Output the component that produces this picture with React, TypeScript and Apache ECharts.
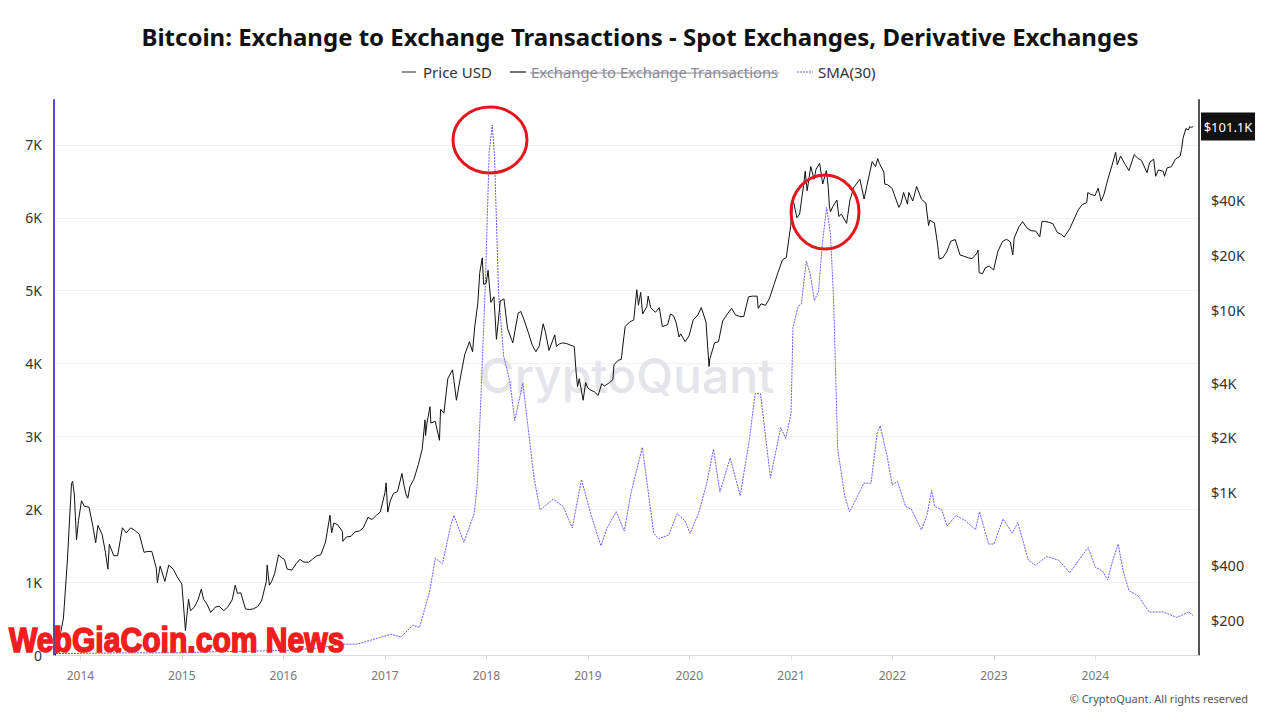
import React, { useEffect, useRef } from "react";
import * as echarts from "echarts";

const TITLE = "Bitcoin: Exchange to Exchange Transactions - Spot Exchanges, Derivative Exchanges";
const LEGEND_NAMES = ["Price USD", "Exchange to Exchange Transactions", "SMA(30)"];
const LEFT_TICKS = [0, 1000, 2000, 3000, 4000, 5000, 6000, 7000];
const RIGHT_TICKS = [200, 400, 1000, 2000, 4000, 10000, 20000, 40000];
const YEARS = [2014, 2015, 2016, 2017, 2018, 2019, 2020, 2021, 2022, 2023, 2024];

const priceData: [string, number][] = [
  ["2013-10-01", 125], ["2013-10-15", 150], ["2013-11-01", 205], ["2013-11-15", 420], ["2013-11-30", 1120], ["2013-12-04", 1150], ["2013-12-10", 980], ["2013-12-18", 550], ["2013-12-25", 700],
  ["2014-01-05", 900], ["2014-01-15", 840], ["2014-02-01", 830], ["2014-02-15", 650], ["2014-02-25", 530], ["2014-03-05", 660], ["2014-03-20", 590], ["2014-04-01", 470], ["2014-04-10", 380], ["2014-04-15", 520], ["2014-05-01", 450], ["2014-05-15", 450], ["2014-06-01", 640], ["2014-06-15", 600], ["2014-07-01", 640], ["2014-07-15", 620], ["2014-08-01", 590], ["2014-08-18", 470], ["2014-09-01", 475], ["2014-09-15", 475], ["2014-10-01", 385], ["2014-10-05", 320], ["2014-10-15", 395], ["2014-11-01", 325], ["2014-11-15", 400], ["2014-12-01", 380], ["2014-12-15", 345],
  ["2015-01-01", 315], ["2015-01-14", 175], ["2015-01-25", 260], ["2015-02-01", 225], ["2015-02-15", 235], ["2015-03-01", 260], ["2015-03-12", 295], ["2015-03-20", 260], ["2015-04-01", 245], ["2015-04-15", 220], ["2015-05-01", 235], ["2015-05-15", 238], ["2015-06-01", 225], ["2015-06-15", 235], ["2015-07-01", 258], ["2015-07-12", 310], ["2015-07-20", 280], ["2015-08-01", 282], ["2015-08-18", 230], ["2015-09-01", 228], ["2015-09-15", 230], ["2015-10-01", 237], ["2015-10-15", 255], ["2015-11-01", 325], ["2015-11-04", 400], ["2015-11-12", 310], ["2015-11-20", 325], ["2015-12-01", 360], ["2015-12-15", 455], ["2015-12-25", 440],
  ["2016-01-05", 430], ["2016-01-15", 380], ["2016-02-01", 375], ["2016-02-15", 405], ["2016-03-01", 430], ["2016-03-15", 415], ["2016-04-01", 415], ["2016-04-15", 430], ["2016-05-01", 450], ["2016-05-15", 455], ["2016-06-01", 535], ["2016-06-17", 750], ["2016-06-23", 600], ["2016-07-01", 680], ["2016-07-15", 665], ["2016-08-01", 610], ["2016-08-02", 540], ["2016-08-15", 570], ["2016-09-01", 575], ["2016-09-15", 608], ["2016-10-01", 615], ["2016-10-15", 640], ["2016-11-01", 730], ["2016-11-15", 710], ["2016-12-01", 750], ["2016-12-15", 780],
  ["2017-01-01", 1000], ["2017-01-05", 1130], ["2017-01-11", 780], ["2017-01-20", 900], ["2017-02-01", 990], ["2017-02-15", 1010], ["2017-03-03", 1270], ["2017-03-10", 1100], ["2017-03-18", 970], ["2017-03-24", 930], ["2017-04-01", 1080], ["2017-04-15", 1180], ["2017-05-01", 1420], ["2017-05-15", 1730], ["2017-05-25", 2500], ["2017-05-27", 2050], ["2017-06-01", 2400], ["2017-06-12", 2950], ["2017-06-15", 2400], ["2017-07-01", 2450], ["2017-07-16", 1930], ["2017-07-20", 2850], ["2017-08-01", 2720], ["2017-08-15", 4200], ["2017-09-01", 4700], ["2017-09-15", 3200], ["2017-10-01", 4400], ["2017-10-15", 5700], ["2017-11-01", 6700], ["2017-11-12", 5900], ["2017-11-20", 8100], ["2017-12-01", 10900], ["2017-12-08", 16000], ["2017-12-17", 19300], ["2017-12-22", 13800], ["2017-12-31", 14000],
  ["2018-01-07", 16500], ["2018-01-17", 11000], ["2018-01-28", 11800], ["2018-02-06", 6900], ["2018-02-20", 11200], ["2018-03-05", 11500], ["2018-03-18", 7900], ["2018-04-01", 6900], ["2018-04-06", 6600], ["2018-04-25", 9600], ["2018-05-05", 9800], ["2018-05-20", 8500], ["2018-06-01", 7500], ["2018-06-15", 6400], ["2018-06-28", 5900], ["2018-07-10", 6350], ["2018-07-24", 8400], ["2018-08-01", 7600], ["2018-08-14", 6000], ["2018-09-04", 7300], ["2018-09-10", 6300], ["2018-09-20", 6500], ["2018-10-01", 6600], ["2018-10-15", 6550], ["2018-11-01", 6400], ["2018-11-13", 6300], ["2018-11-20", 4500], ["2018-11-25", 3800], ["2018-12-01", 4200], ["2018-12-15", 3200], ["2018-12-24", 4000], ["2018-12-31", 3750],
  ["2019-01-10", 3650], ["2019-01-25", 3550], ["2019-02-07", 3400], ["2019-02-20", 3950], ["2019-03-01", 3820], ["2019-03-20", 4000], ["2019-04-01", 4150], ["2019-04-05", 5000], ["2019-04-20", 5300], ["2019-05-01", 5350], ["2019-05-15", 8100], ["2019-06-01", 8600], ["2019-06-15", 8800], ["2019-06-26", 12900], ["2019-07-02", 10600], ["2019-07-10", 12500], ["2019-07-17", 9500], ["2019-08-01", 10400], ["2019-08-06", 11900], ["2019-08-15", 10300], ["2019-09-01", 9700], ["2019-09-15", 10300], ["2019-09-26", 8100], ["2019-10-15", 8300], ["2019-10-25", 9500], ["2019-11-05", 9300], ["2019-11-15", 8500], ["2019-11-25", 7100], ["2019-12-01", 7400], ["2019-12-17", 6700], ["2019-12-31", 7200],
  ["2020-01-15", 8800], ["2020-02-01", 9400], ["2020-02-13", 10300], ["2020-03-01", 8600], ["2020-03-12", 4900], ["2020-03-15", 5400], ["2020-04-01", 6600], ["2020-04-15", 6700], ["2020-04-30", 8700], ["2020-05-15", 9400], ["2020-06-01", 10200], ["2020-06-15", 9400], ["2020-07-01", 9200], ["2020-07-15", 9200], ["2020-08-01", 11800], ["2020-08-15", 11900], ["2020-09-01", 11900], ["2020-09-05", 10200], ["2020-09-15", 10800], ["2020-10-01", 10600], ["2020-10-15", 11500], ["2020-11-01", 13800], ["2020-11-15", 16000], ["2020-12-01", 18800], ["2020-12-15", 19400], ["2020-12-31", 29000],
  ["2021-01-08", 40500], ["2021-01-22", 32000], ["2021-02-01", 33500], ["2021-02-15", 48000], ["2021-02-21", 57500], ["2021-02-28", 45000], ["2021-03-13", 61000], ["2021-03-25", 52000], ["2021-04-01", 59000], ["2021-04-14", 63500], ["2021-04-25", 49000], ["2021-05-08", 58000], ["2021-05-15", 47000], ["2021-05-19", 37000], ["2021-05-23", 34500], ["2021-06-01", 37000], ["2021-06-15", 40000], ["2021-06-22", 32500], ["2021-07-01", 33500], ["2021-07-20", 29800], ["2021-08-01", 40000], ["2021-08-15", 47000], ["2021-09-06", 52000], ["2021-09-21", 40500], ["2021-10-01", 48000], ["2021-10-20", 65000], ["2021-11-01", 61000], ["2021-11-09", 67500], ["2021-11-15", 63500], ["2021-12-01", 57000], ["2021-12-04", 49000], ["2021-12-15", 48500], ["2021-12-31", 46300],
  ["2022-01-10", 41800], ["2022-01-24", 36500], ["2022-02-01", 38500], ["2022-02-10", 44000], ["2022-02-24", 38000], ["2022-03-01", 44000], ["2022-03-15", 39500], ["2022-03-29", 47500], ["2022-04-15", 40500], ["2022-05-01", 38500], ["2022-05-11", 29000], ["2022-05-15", 31000], ["2022-06-01", 30000], ["2022-06-13", 22500], ["2022-06-18", 19000], ["2022-07-01", 19300], ["2022-07-15", 20800], ["2022-07-30", 23800], ["2022-08-15", 24300], ["2022-09-01", 20000], ["2022-09-15", 19700], ["2022-10-01", 19300], ["2022-10-15", 19100], ["2022-11-01", 20500], ["2022-11-05", 21300], ["2022-11-09", 16000], ["2022-11-21", 15800], ["2022-12-01", 17000], ["2022-12-15", 17400], ["2022-12-31", 16550],
  ["2023-01-15", 20900], ["2023-02-01", 23700], ["2023-02-15", 24400], ["2023-03-01", 23600], ["2023-03-10", 20000], ["2023-03-15", 24800], ["2023-04-01", 28500], ["2023-04-14", 30500], ["2023-05-01", 28000], ["2023-05-15", 27200], ["2023-06-01", 27000], ["2023-06-15", 25100], ["2023-06-23", 30500], ["2023-07-01", 30600], ["2023-07-15", 30300], ["2023-08-01", 29700], ["2023-08-17", 26600], ["2023-09-01", 25900], ["2023-09-11", 25100], ["2023-10-01", 27900], ["2023-10-23", 33100], ["2023-11-01", 35400], ["2023-11-15", 37800], ["2023-12-01", 38700], ["2023-12-05", 44000], ["2023-12-15", 43000], ["2023-12-31", 42300],
  ["2024-01-11", 46500], ["2024-01-22", 39500], ["2024-02-01", 43000], ["2024-02-15", 52000], ["2024-03-01", 62000], ["2024-03-14", 73000], ["2024-03-20", 62500], ["2024-04-01", 69700], ["2024-04-15", 63500], ["2024-05-01", 58000], ["2024-05-20", 71000], ["2024-06-01", 67800], ["2024-06-15", 66000], ["2024-07-05", 56500], ["2024-07-15", 64500], ["2024-07-29", 67000], ["2024-08-05", 54000], ["2024-08-15", 58500], ["2024-09-01", 57500], ["2024-09-06", 54000], ["2024-09-15", 60000], ["2024-10-01", 61000], ["2024-10-15", 67000], ["2024-11-01", 69500], ["2024-11-06", 75600], ["2024-11-12", 88000], ["2024-11-22", 98500], ["2024-12-01", 97000], ["2024-12-05", 101000], ["2024-12-12", 100000], ["2024-12-18", 101100],
];

const smaData: [string, number][] = [
  ["2013-10-05", 20], ["2014-03-01", 25], ["2014-08-01", 30], ["2015-01-01", 30], ["2015-05-01", 45], ["2015-08-01", 50], ["2015-12-01", 60], ["2016-02-01", 65], ["2016-05-01", 95],
  ["2016-07-26", 147], ["2016-09-24", 150], ["2016-11-25", 220], ["2017-01-22", 285], ["2017-02-28", 246], ["2017-04-10", 408], ["2017-05-05", 378], ["2017-06-10", 860], ["2017-07-01", 1327], ["2017-07-27", 1253], ["2017-08-25", 1769], ["2017-09-06", 1916], ["2017-10-12", 1548], ["2017-11-18", 1941], ["2017-11-29", 2334], ["2017-12-14", 3710], ["2017-12-28", 5086],
  ["2018-01-11", 6904], ["2018-01-22", 7273], ["2018-01-30", 6855], ["2018-02-14", 4939], ["2018-03-04", 4103], ["2018-03-26", 3759], ["2018-04-13", 3219], ["2018-05-12", 3735], ["2018-05-31", 3120], ["2018-06-21", 2432], ["2018-07-13", 1990], ["2018-08-29", 2138], ["2018-10-04", 2039], ["2018-11-06", 1744], ["2018-12-09", 2408],
  ["2019-01-11", 1941], ["2019-02-17", 1499], ["2019-03-11", 1744], ["2019-04-13", 1966], ["2019-05-12", 1700], ["2019-06-06", 2236], ["2019-07-16", 2850], ["2019-08-08", 2187], ["2019-08-26", 1671], ["2019-09-13", 1597], ["2019-10-19", 1646], ["2019-11-18", 1941], ["2019-12-16", 1843],
  ["2020-01-04", 1671], ["2020-02-03", 1941], ["2020-03-04", 2359], ["2020-03-28", 2826], ["2020-04-20", 2236], ["2020-05-27", 2703], ["2020-07-02", 2187], ["2020-08-03", 2924], ["2020-08-25", 3587], ["2020-09-13", 3587], ["2020-10-19", 2432], ["2020-11-25", 3120], ["2020-12-13", 2973],
  ["2021-01-01", 3317], ["2021-01-08", 4496], ["2021-01-27", 4791], ["2021-02-07", 4816], ["2021-02-25", 5405], ["2021-03-11", 5233], ["2021-03-26", 4865], ["2021-04-10", 4988], ["2021-04-24", 5651], ["2021-05-09", 6143], ["2021-05-23", 5774], ["2021-06-03", 4889], ["2021-06-18", 2826], ["2021-07-13", 2187], ["2021-07-31", 1966], ["2021-08-29", 2187], ["2021-09-20", 2359], ["2021-10-16", 2359], ["2021-11-07", 3047], ["2021-11-18", 3145], ["2021-12-13", 2727], ["2021-12-31", 2334],
  ["2022-01-19", 2383], ["2022-02-17", 2039], ["2022-03-10", 2000], ["2022-04-15", 1720], ["2022-05-05", 1916], ["2022-05-22", 2260], ["2022-06-02", 2039], ["2022-06-28", 1990], ["2022-07-16", 1769], ["2022-08-18", 1916], ["2022-09-20", 1843], ["2022-10-27", 1720], ["2022-11-10", 1966], ["2022-12-13", 1523],
  ["2023-01-01", 1523], ["2023-02-03", 1867], ["2023-03-08", 1671], ["2023-03-28", 1818], ["2023-05-05", 1302], ["2023-05-30", 1229], ["2023-07-09", 1351], ["2023-08-22", 1302], ["2023-10-01", 1130], ["2023-11-07", 1327], ["2023-12-06", 1474],
  ["2024-01-01", 1204], ["2024-01-26", 1155], ["2024-02-14", 1032], ["2024-03-04", 1302], ["2024-03-23", 1523], ["2024-04-10", 1155], ["2024-05-01", 885], ["2024-06-03", 811], ["2024-07-13", 590], ["2024-09-02", 590], ["2024-10-20", 516], ["2024-12-02", 590], ["2024-12-18", 541],
];

const fmtK = (v: number) => (v === 0 ? "0" : v >= 1000 ? `${Math.round(v / 100) / 10}K` : `${v}`);
const fmtUsd = (v: number) => (v >= 1000 ? `$${Math.round(v / 100) / 10}K` : `$${Math.round(v)}`);
const ts = (d: string) => {
  const [y, m, dd] = d.split("-").map(Number);
  return Date.UTC(y, m - 1, dd);
};

export default function App() {
  const ref = useRef<HTMLDivElement>(null);
  useEffect(() => {
    if (!ref.current) return;
    const chart = echarts.init(ref.current, null, { renderer: "svg" });
    const yearTs = YEARS.map((y) => Date.UTC(y, 0, 1));
    const font = "'Noto Sans', sans-serif";
    const last = priceData[priceData.length - 1][1];

    chart.setOption({
      animation: false,
      backgroundColor: "#ffffff",
      title: {
        text: TITLE,
        left: "center",
        top: 19,
        textStyle: { fontSize: 24, fontWeight: "bold", color: "#111", fontFamily: font },
      },
      legend: { show: false },
      grid: { left: 54, right: 81, top: 100, bottom: 65, containLabel: false },
      xAxis: {
        type: "value",
        min: Date.UTC(2013, 8, 28),
        max: Date.UTC(2025, 0, 8),
        axisLine: { show: true, lineStyle: { color: "#dcdce0", width: 1 } },
        axisTick: { show: true, customValues: yearTs, length: 5, lineStyle: { color: "#dcdce0" } },
        axisLabel: {
          customValues: yearTs,
          formatter: (v: number) => String(new Date(v).getUTCFullYear()),
          color: "#777",
          fontSize: 12,
          margin: 14,
          fontFamily: font,
        },
        splitLine: { show: false },
      },
      yAxis: [
        {
          type: "value",
          min: 0,
          max: 7617,
          position: "left",
          axisLine: { show: true, lineStyle: { color: "#5244f5", width: 2 } },
          axisTick: { show: false, customValues: LEFT_TICKS },
          axisLabel: { customValues: LEFT_TICKS, formatter: fmtK, color: "#333", fontSize: 14, margin: 12, fontFamily: font },
          splitLine: { show: true, lineStyle: { color: "#f1f1f3", width: 1 } },
        },
        {
          type: "value",
          min: 2.1092,
          max: 5.1503,
          position: "right",
          axisLine: { show: true, lineStyle: { color: "#555", width: 2 } },
          axisTick: { show: false, customValues: RIGHT_TICKS.map((v) => Math.log10(v)) },
          axisLabel: {
            customValues: RIGHT_TICKS.map((v) => Math.log10(v)),
            formatter: (v: number) => fmtUsd(Math.pow(10, v)),
            color: "#333",
            fontSize: 14.5,
            margin: 12,
            fontFamily: font,
          },
          splitLine: { show: false },
        },
      ],
      series: [
        {
          name: LEGEND_NAMES[2],
          type: "line",
          yAxisIndex: 0,
          data: smaData.map(([d, v]) => [ts(d), v]),
          showSymbol: false,
          symbol: "none",
          lineStyle: { color: "#6a5cff", width: 1, type: [2, 1] },
          z: 2,
        },
        {
          name: LEGEND_NAMES[0],
          type: "line",
          yAxisIndex: 1,
          data: priceData.map(([d, v]) => [ts(d), Math.log10(v)]),
          showSymbol: false,
          symbol: "none",
          lineStyle: { color: "#111", width: 1 },
          z: 3,
        },
      ],
    });

    const yLast = chart.convertToPixel({ yAxisIndex: 1 }, Math.log10(last)) as number;

    chart.setOption({
      graphic: [
        { type: "line", shape: { x1: 402, y1: 72, x2: 416, y2: 72 }, style: { stroke: "#222", lineWidth: 1 } },
        { type: "text", x: 423, y: 72, style: { text: LEGEND_NAMES[0], fill: "#333", font: `15px ${font}`, textVerticalAlign: "middle" } },
        { type: "line", shape: { x1: 510, y1: 72, x2: 526, y2: 72 }, style: { stroke: "#444", lineWidth: 1.5 } },
        { type: "text", x: 531, y: 72, style: { text: LEGEND_NAMES[1], fill: "#8a8a96", font: `14.8px ${font}`, textVerticalAlign: "middle" } },
        { type: "line", shape: { x1: 530, y1: 73, x2: 779, y2: 73 }, style: { stroke: "#8a8a96", lineWidth: 1 } },
        { type: "line", shape: { x1: 797, y1: 72, x2: 813, y2: 72 }, style: { stroke: "#6a5cff", lineWidth: 1, lineDash: [2, 1] } },
        { type: "text", x: 818, y: 72, style: { text: LEGEND_NAMES[2], fill: "#333", font: `15px ${font}`, textVerticalAlign: "middle" } },
        {
          type: "text",
          x: 627,
          y: 375,
          z: 0,
          style: { text: "CryptoQuant", fill: "#e4e4ea", font: `500 48px Inter, sans-serif`, textAlign: "center", textVerticalAlign: "middle" },
        },
        { type: "rect", shape: { x: 1201, y: yLast - 14, width: 54, height: 28 }, style: { fill: "#111" }, z: 10 },
        {
          type: "text",
          x: 1228,
          y: yLast,
          z: 11,
          style: { text: fmtUsd(last), fill: "#fff", font: `13px ${font}`, textAlign: "center", textVerticalAlign: "middle" },
        },
        { type: "ellipse", shape: { cx: 490, cy: 140, rx: 37, ry: 33 }, style: { fill: "none", stroke: "#e3161d", lineWidth: 3 }, z: 20 },
        { type: "ellipse", shape: { cx: 825, cy: 212, rx: 34, ry: 37 }, style: { fill: "none", stroke: "#e3161d", lineWidth: 3 }, z: 20 },
        {
          type: "text",
          x: 9,
          y: 640,
          z: 30,
          scaleX: 0.86,
          style: {
            text: "WebGiaCoin.com News",
            fill: "#f41c1c",
            stroke: "#f41c1c",
            lineWidth: 1.6,
            font: `bold 35px 'Liberation Sans Narrow', sans-serif`,
            textVerticalAlign: "middle",
          },
        },
        {
          type: "text",
          x: 1248,
          y: 698,
          style: { text: "© CryptoQuant. All rights reserved", fill: "#555", font: `11px ${font}`, textAlign: "right", textVerticalAlign: "middle" },
        },
      ],
    });

    return () => chart.dispose();
  }, []);
  return <div ref={ref} style={{ width: 1280, height: 720, position: "absolute", left: 0, top: 0 }} />;
}
